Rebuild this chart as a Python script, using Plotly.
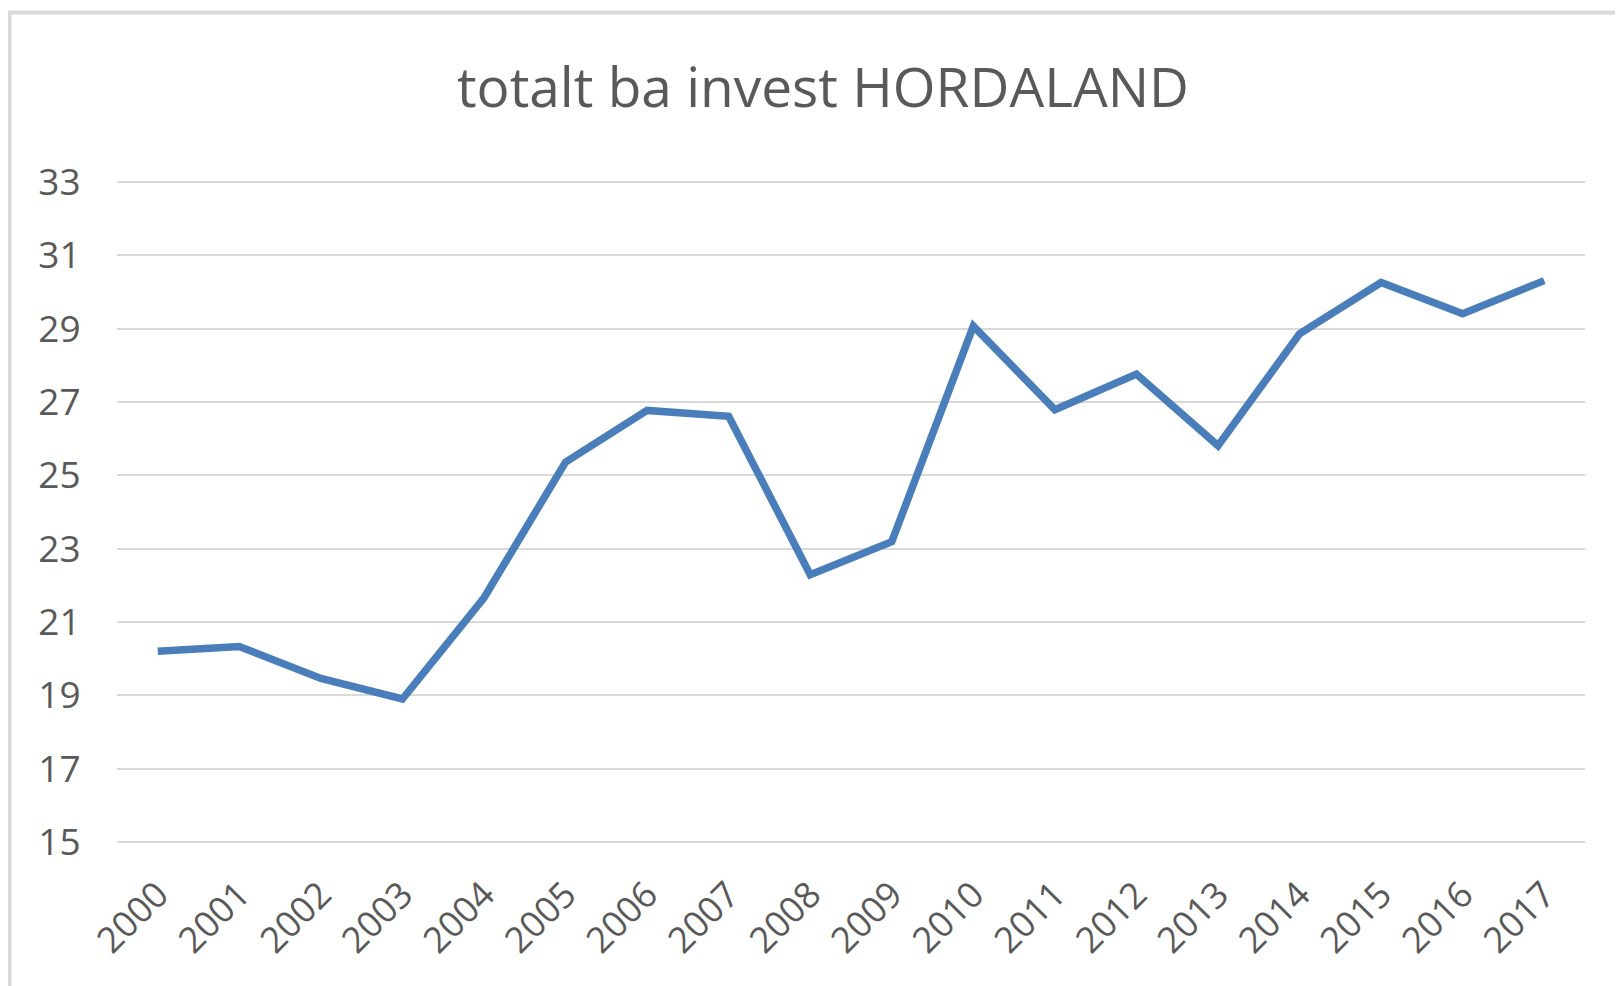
import plotly.graph_objects as go

years = [str(y) for y in range(2000, 2018)]
values = [20.2, 20.33, 19.46, 18.9, 21.66, 25.36, 26.77, 26.61, 22.29, 23.19,
          29.07, 26.79, 27.76, 25.81, 28.86, 30.26, 29.41, 30.31]
y_ticks = [15, 17, 19, 21, 23, 25, 27, 29, 31, 33]
title_text = "totalt ba invest HORDALAND"

W, H = 1623, 986
OFF = 8  # default page body margin
# plot area in page pixels (reference): left 117, right 1585, top 182 (y=33), bottom 842 (y=15)
pad = 2
L = 117 - OFF
R = W - (1585 - OFF)
T = 182 - OFF - pad
B = H - (842 - OFF) - pad
units_per_px = 18 / 660.0

fig = go.Figure()
fig.add_trace(go.Scatter(
    x=years, y=values, mode="lines",
    line=dict(color="#4a7ebb", width=7.5, shape="linear"),
    hoverinfo="x+y", showlegend=False,
))

font_family = "Open Sans, Liberation Sans, sans-serif"
pw = W - L - R
ph = H - T - B
fig.update_layout(
    width=W, height=H,
    margin=dict(l=L, r=R, t=T, b=B, autoexpand=False),
    paper_bgcolor="white", plot_bgcolor="white",
    font=dict(family=font_family, color="#595959"),
    title=dict(text=title_text, x=(823 - OFF - L) / pw, xref="paper", xanchor="center",
               y=1 - (88 - OFF) / H, yanchor="middle", yref="container",
               font=dict(size=55, color="#595959", family=font_family)),
    xaxis=dict(type="category", range=[-0.5, 17.5], showgrid=False, zeroline=False,
               showline=False, ticks="outside", ticklen=14, tickcolor="rgba(0,0,0,0)",
               tickangle=-45, tickfont=dict(size=36, color="#595959")),
    yaxis=dict(range=[15 - pad * units_per_px, 33 + pad * units_per_px],
               tickvals=y_ticks, ticktext=[str(v) for v in y_ticks],
               showgrid=True, gridcolor="#d9d9d9", gridwidth=1.5, zeroline=False,
               showline=False, ticks="outside", ticklen=28, tickcolor="rgba(0,0,0,0)",
               tickfont=dict(size=37, color="#595959")),
    shapes=[dict(type="rect", xref="paper", yref="paper",
                 x0=(9.5 - OFF - L) / pw, x1=(W + 20 - L) / pw,
                 y0=-(B + 40) / ph,
                 y1=1 + (T - (12.5 - OFF)) / ph,
                 line=dict(color="#d9d9d9", width=4), fillcolor="rgba(0,0,0,0)", layer="below")],
)

fig.write_html("out.html")
